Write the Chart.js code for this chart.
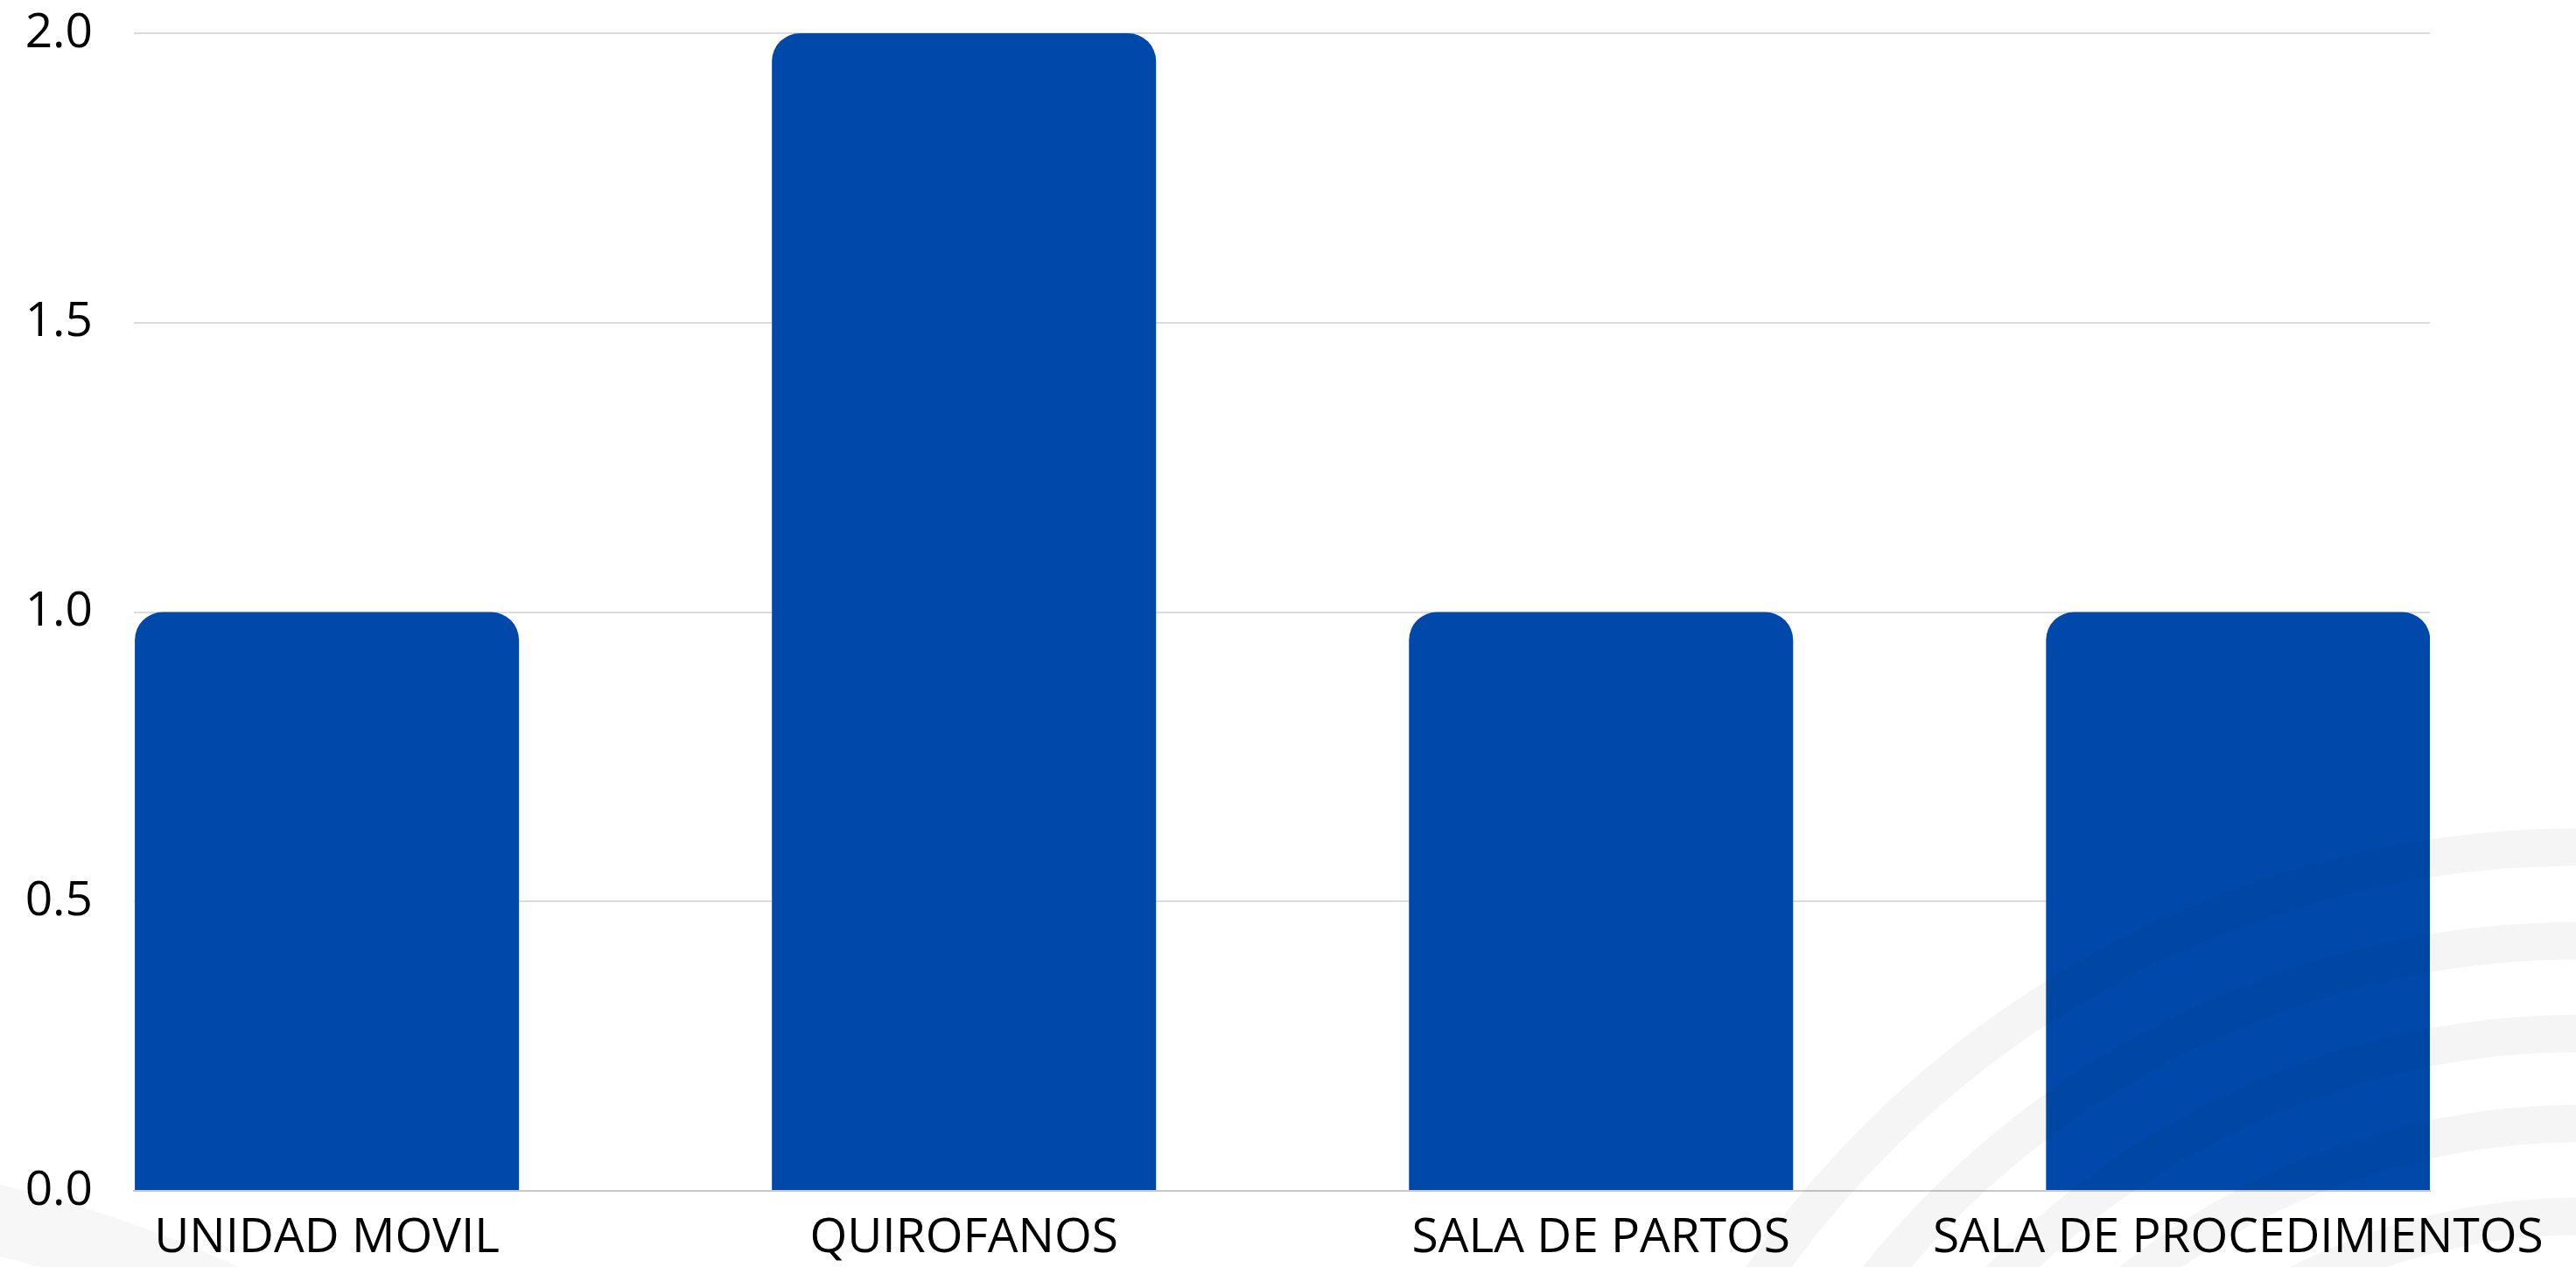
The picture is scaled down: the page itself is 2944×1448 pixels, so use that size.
<!DOCTYPE html>
<html>
<head>
<meta charset="utf-8">
<script src="https://cdn.jsdelivr.net/npm/chart.js@4"></script>
<style>
  html, body { margin: 0; padding: 0; background: #ffffff; }
  #wrap { width: 2944px; height: 1448px; }
</style>
</head>
<body>
<div id="wrap"><canvas id="chart"></canvas></div>
<script>
const categories = ["UNIDAD MOVIL", "QUIROFANOS", "SALA DE PARTOS", "SALA DE PROCEDIMIENTOS"]
const values = [1, 2, 1, 1]
const yTicks = [0, 0.5, 1, 1.5, 2]

const FONT = "'Open Sans', sans-serif"
const barColor = "#0049aa"

// faint watermark arcs laid over the chart
const watermark = {
  id: "watermark",
  afterDraw(chart) {
    const ctx = chart.ctx
    ctx.save()
    ctx.strokeStyle = "rgba(0, 0, 0, 0.04)"
    ctx.lineWidth = 43
    ;[1138, 1031, 925, 822, 716].forEach((r) => {
      ctx.beginPath()
      ctx.arc(2950, 2106, r, 0, Math.PI * 2)
      ctx.stroke()
    })
    ctx.lineWidth = 80
    ctx.strokeStyle = "rgba(0, 0, 0, 0.03)"
    ctx.beginPath()
    ctx.arc(-364, 2850, 1500, 0, Math.PI * 2)
    ctx.stroke()
    ctx.restore()
  }
}

const chart = new Chart(document.getElementById("chart"), {
  type: "bar",
  data: {
    datasets: [{
      data: values.map((v, i) => ({x: i, y: v})),
      backgroundColor: barColor,
      borderWidth: 0,
      borderRadius: {topLeft: 32, topRight: 32, bottomLeft: 0, bottomRight: 0},
      borderSkipped: false,
      categoryPercentage: 1,
      barPercentage: 0.603,
    }]
  },
  options: {
    responsive: true,
    maintainAspectRatio: false,
    animation: false,
    layout: {padding: {top: 38, right: 167, bottom: 0, left: 0}},
    plugins: {legend: {display: false}, tooltip: {enabled: false}},
    scales: {
      x: {
        type: "linear",
        offset: false,
        min: -0.303,
        max: 3.301,
        afterBuildTicks: (scale) => {
          scale.ticks = categories.map((_, i) => ({value: i}))
        },
        afterFit: (scale) => {
          scale.height = 87
          scale.paddingLeft = 0
          scale.paddingRight = 0
        },
        grid: {display: false, drawTicks: false},
        border: {display: true, color: "#c8c8c8", width: 2},
        ticks: {
          autoSkip: false,
          maxRotation: 0,
          padding: 21,
          color: "#000000",
          font: {family: FONT, size: 55},
          callback: (v) => categories[v] ?? ""
        }
      },
      y: {
        min: 0,
        max: 2,
        afterBuildTicks: (scale) => {
          scale.ticks = yTicks.map((v) => ({value: v}))
        },
        afterFit: (scale) => {
          scale.width = 153
          scale.paddingTop = 0
          scale.paddingBottom = 0
        },
        grid: {color: "#dcdcdc", lineWidth: 2, drawTicks: false},
        border: {display: false},
        ticks: {
          padding: 47,
          color: "#000000",
          font: {family: FONT, size: 55},
          callback: (v) => v.toFixed(1)
        }
      }
    }
  },
  plugins: [watermark]
})
</script>
</body>
</html>
